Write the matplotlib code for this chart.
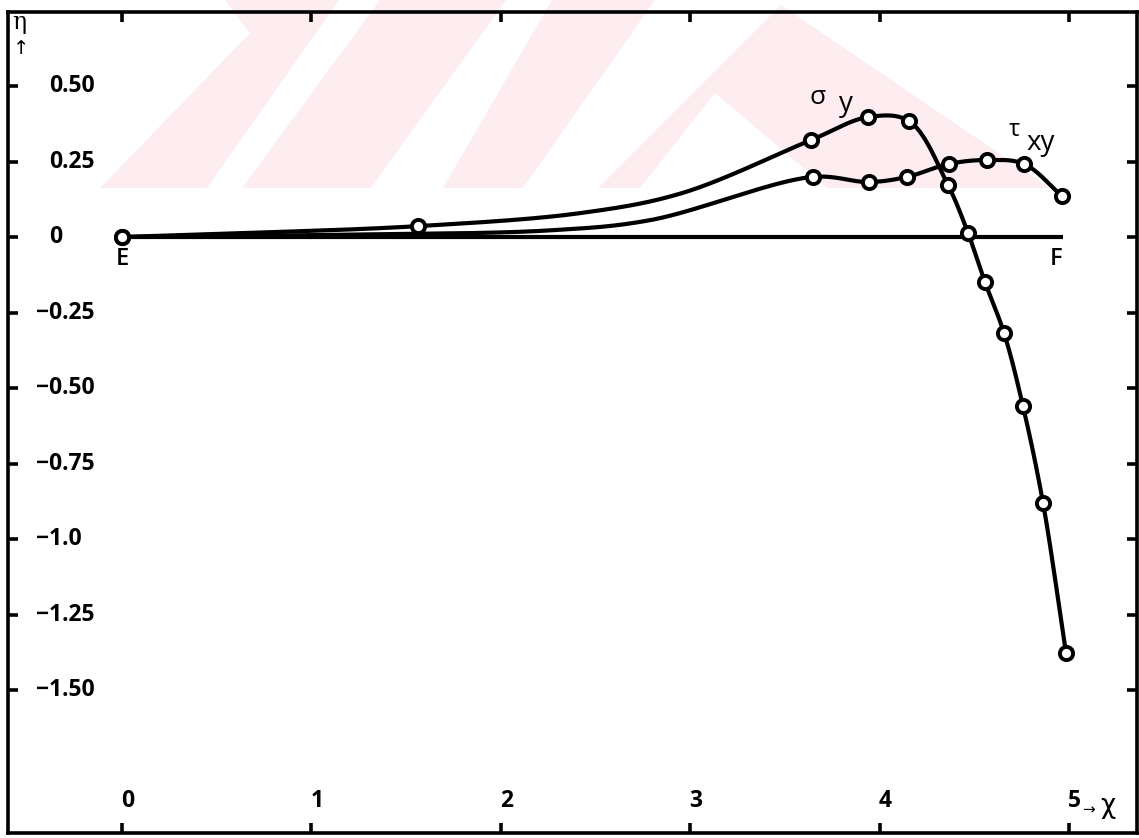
import numpy as np
import matplotlib
matplotlib.use('Agg')
import matplotlib.pyplot as plt
from matplotlib.patches import Polygon

# ---------------- data ----------------
x_ticks = [0, 1, 2, 3, 4, 5]
x_ticklabels = ['0', '1', '2', '3', '4', '5']
y_ticks = [0.5, 0.25, 0, -0.25, -0.5, -0.75, -1.0, -1.25, -1.5]
y_ticklabels = ['0.50', '0.25', '0', '\u22120.25', '\u22120.50', '\u22120.75',
                '\u22121.0', '\u22121.25', '\u22121.50']

# sigma_y : measured points (circles)
sigma_x = [0.0, 1.563, 3.638, 3.939, 4.155, 4.361, 4.467, 4.556, 4.657, 4.757, 4.863, 4.984]
sigma_y = [0.0, 0.036, 0.321, 0.397, 0.384, 0.172, 0.013, -0.149, -0.318, -0.560, -0.881, -1.377]
# sigma_y : extra trace of the drawn curve between the circles
sigma_trace_x = [0.7, 2.43, 2.96]
sigma_trace_y = [0.014, 0.080, 0.146]

# tau_xy : measured points (circles)
tau_x = [0.0, 3.648, 3.944, 4.145, 4.366, 4.567, 4.762, 4.963]
tau_y = [0.0, 0.199, 0.182, 0.199, 0.242, 0.255, 0.242, 0.136]
# tau_xy : extra trace of the drawn curve
tau_trace_x = [1.2, 2.26, 2.79]
tau_trace_y = [0.008, 0.022, 0.056]

# E-F reference line
ef_x = [0.0, 4.97]
ef_y = [0.0, 0.0]

# ---------------- helpers ----------------
YS = 302.0 / 189.4  # aspect factor (pixel scale y / x)


def smooth(xs, ys, n=40):
    P = np.column_stack([xs, np.asarray(ys) * YS]).astype(float)
    P = np.vstack([2 * P[0] - P[1], P, 2 * P[-1] - P[-2]])
    out = []
    for i in range(1, len(P) - 2):
        p0, p1, p2, p3 = P[i - 1], P[i], P[i + 1], P[i + 2]

        def tj(ti, a, b):
            return ti + max(np.linalg.norm(b - a), 1e-9) ** 0.5
        t0 = 0.0
        t1 = tj(t0, p0, p1)
        t2 = tj(t1, p1, p2)
        t3 = tj(t2, p2, p3)
        t = np.linspace(t1, t2, n)[:, None]
        A1 = (t1 - t) / (t1 - t0) * p0 + (t - t0) / (t1 - t0) * p1
        A2 = (t2 - t) / (t2 - t1) * p1 + (t - t1) / (t2 - t1) * p2
        A3 = (t3 - t) / (t3 - t2) * p2 + (t - t2) / (t3 - t2) * p3
        B1 = (t2 - t) / (t2 - t0) * A1 + (t - t0) / (t2 - t0) * A2
        B2 = (t3 - t) / (t3 - t1) * A2 + (t - t1) / (t3 - t1) * A3
        C = (t2 - t) / (t2 - t1) * B1 + (t - t1) / (t2 - t1) * B2
        out.append(C if i == 1 else C[1:])
    C = np.vstack(out)
    return C[:, 0], C[:, 1] / YS


def merged(x1, y1, x2, y2):
    pts = sorted(zip(list(x1) + list(x2), list(y1) + list(y2)))
    return [p[0] for p in pts], [p[1] for p in pts]


# ---------------- figure ----------------
W, H = 1139, 838
fig = plt.figure(figsize=(W / 100, H / 100), dpi=100)
fig.patch.set_facecolor('white')

# faint watermark (pixel coordinates of the scan)
pink = '#fdedf0'


def fpoly(pts, color):
    p = Polygon([(x / W, 1 - y / H) for x, y in pts], closed=True,
                transform=fig.transFigure, facecolor=color, edgecolor='none', zorder=-5)
    fig.patches.append(p)


fpoly([(100, 188), (207, 188), (339, 0), (225, 0), (250, 33)], pink)
fpoly([(242, 188), (371, 188), (506, 0), (380, 0)], pink)
fpoly([(443, 188), (523, 188), (655, 0), (552, 0)], pink)
fpoly([(598, 188), (781, 5), (1050, 188)], pink)
fpoly([(640, 188), (715, 93), (827, 188)], 'white')

L, R, T, B = 8, 1137, 12, 833
ax = fig.add_axes([L / W, 1 - B / H, (R - L) / W, (B - T) / H])
ax.set_facecolor('none')

x0px, xs = 122.0, 189.4
y0px, ysc = 237.0, 302.0
ax.set_xlim((L - x0px) / xs, (R - x0px) / xs)
ax.set_ylim((y0px - B) / ysc, (y0px - T) / ysc)

for s in ax.spines.values():
    s.set_linewidth(2.6)
    s.set_color('black')

ax.set_xticks(x_ticks)
ax.set_yticks(y_ticks)
ax.tick_params(direction='in', length=7, width=2.6, top=True, right=True,
               labelbottom=False, labelleft=False, colors='black')

lab_font = dict(family=['Open Sans', 'DejaVu Sans'], fontsize=16.5, fontweight='bold', color='black')

# y tick labels inside the frame
for v, t in zip(y_ticks, y_ticklabels):
    xpx = 36 if t.startswith('\u2212') else 49
    ax.text((xpx - x0px) / xs, v, t, ha='left', va='center', **lab_font)

# x tick labels inside the frame
ylab = (y0px - 801) / ysc
for v, t in zip(x_ticks, x_ticklabels):
    ax.text(v + 0.03, ylab, t, ha='center', va='center', **lab_font)
ax.text((1082 - x0px) / xs, (y0px - 810) / ysc, '\u2192', ha='left', va='center',
        family='DejaVu Sans', fontsize=11, color='black')
ax.text((1100 - x0px) / xs, (y0px - 806) / ysc, '\u03c7', ha='left', va='center',
        family=['DejaVu Sans'], fontsize=19, color='black')

# eta axis label
ax.text((12 - x0px) / xs, (y0px - 22) / ysc, '\u03b7', ha='left', va='center',
        family='DejaVu Serif', fontsize=17, color='black')
ax.text((13 - x0px) / xs, (y0px - 48) / ysc, '\u2191', ha='left', va='center',
        family='DejaVu Sans', fontsize=14, color='black')

# E / F line
ax.plot(ef_x, ef_y, color='black', lw=3.0, solid_capstyle='butt', zorder=3)

# curves
sx, sy = merged(sigma_x, sigma_y, sigma_trace_x, sigma_trace_y)
cx, cy = smooth(sx, sy)
ax.plot(cx, cy, color='black', lw=3.0, zorder=4)
tx, ty = merged(tau_x, tau_y, tau_trace_x, tau_trace_y)
cx, cy = smooth(tx, ty)
ax.plot(cx, cy, color='black', lw=3.0, zorder=4)

mk = dict(marker='o', ms=9.5, mfc='white', mec='black', mew=2.8, ls='none', zorder=6)
ax.plot(sigma_x, sigma_y, **mk)
ax.plot(tau_x, tau_y, **mk)

# point labels
ef_font = dict(family=['Open Sans', 'DejaVu Sans'], fontsize=17, fontweight='semibold', color='black')
ax.text(0.0, (y0px - 259) / ysc, 'E', ha='center', va='center', **ef_font)
ax.text(4.93, (y0px - 259) / ysc, 'F', ha='center', va='center', **ef_font)

curve_font = dict(family=['Open Sans', 'DejaVu Sans'], color='black')
ax.text((818 - x0px) / xs, (y0px - 97) / ysc, '\u03c3', ha='center', va='center', fontsize=19, **curve_font)
ax.text((846 - x0px) / xs, (y0px - 104) / ysc, 'y', ha='center', va='center', fontsize=20, **curve_font)
ax.text((1014 - x0px) / xs, (y0px - 130) / ysc, '\u03c4', ha='center', va='center', fontsize=17, **curve_font)
ax.text((1041 - x0px) / xs, (y0px - 143) / ysc, 'xy', ha='center', va='center', fontsize=20, **curve_font)

fig.savefig('out.png', dpi=100, facecolor='white')
